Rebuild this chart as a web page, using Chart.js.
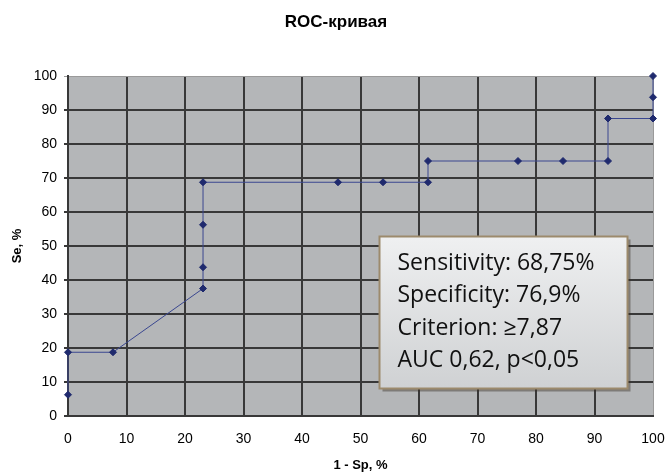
<!DOCTYPE html>
<html>
<head>
<meta charset="utf-8">
<script src="https://cdn.jsdelivr.net/npm/chart.js@4.4.0/dist/chart.umd.min.js"></script>
<style>
  html, body { margin: 0; padding: 0; background: #fff; }
  #wrap { width: 668px; height: 473px; }
</style>
</head>
<body>
<div id="wrap"><canvas id="roc" width="668" height="473"></canvas></div>
<script>
// 1 - Sp (%) and Se (%)
const oneMinusSp = [0, 0, 7.69, 23.08, 23.08, 23.08, 23.08, 46.15, 53.85, 61.54, 61.54, 76.92, 84.62, 92.31, 92.31, 100, 100, 100];
const sensitivity = [6.25, 18.75, 18.75, 37.5, 43.75, 56.25, 68.75, 68.75, 68.75, 68.75, 75, 75, 75, 75, 87.5, 87.5, 93.75, 100];

const chartTitle = "ROC-кривая";
const boxLines = ["Sensitivity: 68,75%", "Specificity: 76,9%", "Criterion: \u22657,87", "AUC 0,62, p<0,05"];

const points = oneMinusSp.map((x, i) => ({ x: x, y: sensitivity[i] }));
const font = "'Liberation Sans', Arial, sans-serif";

const plotBg = {
  id: "plotBg",
  beforeDraw(chart) {
    const { ctx, chartArea: a } = chart;
    ctx.save();
    ctx.fillStyle = "#b4b6b8";
    ctx.fillRect(a.left, a.top, a.right - a.left, a.bottom - a.top);
    ctx.restore();
  }
};

// title and stats box drawn on top
const overlay = {
  id: "overlay",
  afterDraw(chart) {
    const { ctx } = chart;
    const xs = chart.scales.x, ys = chart.scales.y;
    ctx.save();
    ctx.fillStyle = "#000";
    ctx.font = "bold 17px " + font;
    ctx.textAlign = "center";
    ctx.textBaseline = "middle";
    ctx.fillText(chartTitle, 336, 22);

    const l = Math.round(xs.getPixelForValue(53.16)) + 0.5;
    const r = Math.round(xs.getPixelForValue(95.56)) + 0.5;
    const t = Math.round(ys.getPixelForValue(52.94)) + 0.5;
    const b = Math.round(ys.getPixelForValue(8.24)) + 0.5;
    ctx.fillStyle = "rgba(60,50,40,0.45)";
    ctx.fillRect(l + 3, t + 3, r - l, b - t);
    const g = ctx.createLinearGradient(0, t, 0, b);
    g.addColorStop(0, "#eff0f1");
    g.addColorStop(1, "#cfd1d3");
    ctx.fillStyle = g;
    ctx.fillRect(l, t, r - l, b - t);
    ctx.strokeStyle = "#9c8a6c";
    ctx.lineWidth = 2;
    ctx.strokeRect(l, t, r - l, b - t);
    ctx.fillStyle = "#111";
    ctx.font = "23px 'Open Sans', sans-serif";
    ctx.textAlign = "left";
    boxLines.forEach((s, i) => {
      ctx.fillText(s, l + 18, t + 27 + i * 32.4);
    });
    ctx.restore();
  }
};

const gridColor = (ctx) => (ctx.tick && ctx.tick.value === 100 ? "#9a9a9a" : "#383838");
const gridWidth = (ctx) => (ctx.tick && ctx.tick.value === 100 ? 1 : 2);

new Chart(document.getElementById("roc"), {
  type: "scatter",
  data: {
    datasets: [{
      data: points,
      showLine: true,
      clip: false,
      borderColor: "#3a4790",
      borderWidth: 1,
      backgroundColor: "#1f2a6e",
      pointBackgroundColor: "#1f2a6e",
      pointBorderColor: "#1f2a6e",
      pointStyle: "rectRot",
      pointRadius: 3.5,
      pointBorderWidth: 1
    }]
  },
  plugins: [plotBg, overlay],
  options: {
    responsive: false,
    animation: false,
    layout: { padding: { left: 0, right: 15, top: 76, bottom: 0 } },
    plugins: {
      legend: { display: false },
      tooltip: { enabled: false },
      title: { display: false }
    },
    scales: {
      x: {
        type: "linear",
        min: 0, max: 100,
        afterFit(s) {
          s.height = 57;
          s.paddingLeft = 0;
          s.paddingRight = 0;
        },
        ticks: {
          stepSize: 10,
          color: "#000",
          padding: 15,
          font: { family: font, size: 14 }
        },
        grid: { color: gridColor, lineWidth: gridWidth, drawTicks: false },
        border: { color: "#383838", width: 2 },
        title: {
          display: true,
          text: "1 - Sp, %",
          color: "#000",
          font: { family: font, size: 13, weight: "bold" },
          padding: { top: 10, bottom: 0 }
        }
      },
      y: {
        type: "linear",
        min: 0, max: 100,
        afterFit(s) { s.width = 68; },
        ticks: {
          stepSize: 10,
          color: "#000",
          padding: 7,
          font: { family: font, size: 14 }
        },
        grid: { color: gridColor, lineWidth: gridWidth, tickLength: 4, drawTicks: true },
        border: { color: "#383838", width: 2 },
        title: {
          display: true,
          text: "Se, %",
          color: "#000",
          font: { family: font, size: 13, weight: "bold" },
          padding: { top: 10, bottom: 0 }
        }
      }
    }
  }
});
</script>
</body>
</html>
